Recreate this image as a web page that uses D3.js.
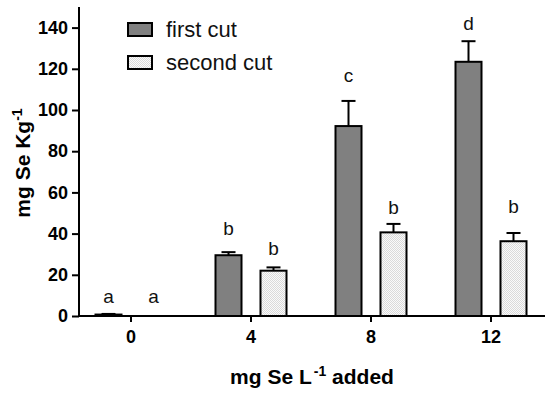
<!DOCTYPE html>
<html><head><meta charset="utf-8">
<script src="https://cdn.jsdelivr.net/npm/d3@7"></script>
<style>body{margin:0;background:#fff}svg{display:block}text{font-family:"Liberation Sans",Arial,sans-serif}</style>
</head><body>
<svg id="c" width="550" height="393"></svg>
<script>
const categories = ["0","4","8","12"];
const series = ["first cut","second cut"];
const firstCut = [0.7, 29.5, 92.2, 123.4];
const firstErr = [0.3, 1.5, 12.2, 10.0];
const secondCut = [0, 22.0, 40.6, 36.3];
const secondErr = [0, 1.6, 4.1, 4.0];
const firstLetters = ["a","b","c","d"];
const secondLetters = ["a","b","b","b"];
const firstLetterAt = [6.5, 39.3, 113.6, 138.8];
const secondLetterAt = [6.5, 29.6, 49.5, 50.0];
const yTicks = [0,20,40,60,80,100,120,140];

const svg = d3.select("#c");
const defs = svg.append("defs");
const pat = defs.append("pattern").attr("id","chk").attr("patternUnits","userSpaceOnUse").attr("width",2).attr("height",2);
pat.append("rect").attr("width",2).attr("height",2).attr("fill","#fafafa");
pat.append("rect").attr("width",1).attr("height",1).attr("fill","#dadada");
pat.append("rect").attr("x",1).attr("y",1).attr("width",1).attr("height",1).attr("fill","#dadada");

const y = d3.scaleLinear().domain([0,150]).range([316,7]);
const x0 = d3.scaleBand().domain(categories).range([71,551]);
const x1 = d3.scaleBand().domain(series).range([24.5,95.5]).paddingInner(0.422);
const fills = {"first cut":"#808080","second cut":"url(#chk)"};

const rows = categories.map((c,i)=>[
  {c, s:series[0], v:firstCut[i], e:firstErr[i], l:firstLetters[i], la:firstLetterAt[i]},
  {c, s:series[1], v:secondCut[i], e:secondErr[i], l:secondLetters[i], la:secondLetterAt[i]}
]).flat();

const g = svg.append("g");
rows.filter(d=>d.v>0).forEach(d=>{
  const bx = x0(d.c)+x1(d.s), bw = x1.bandwidth();
  const cx = bx + bw/2;
  if (d.e>0){
    g.append("line").attr("x1",cx).attr("x2",cx).attr("y1",y(d.v)).attr("y2",y(d.v+d.e)).attr("stroke","#000").attr("stroke-width",2);
    g.append("line").attr("x1",cx-7).attr("x2",cx+7).attr("y1",y(d.v+d.e)).attr("y2",y(d.v+d.e)).attr("stroke","#000").attr("stroke-width",2);
  }
  g.append("rect").attr("x",bx).attr("y",y(d.v)).attr("width",bw).attr("height",Math.max(0,y(0)-y(d.v)))
    .attr("fill",fills[d.s]).attr("stroke","#000").attr("stroke-width",2);
});
rows.forEach(d=>{
  const cx = x0(d.c)+x1(d.s)+x1.bandwidth()/2;
  g.append("text").attr("x",cx).attr("y",y(d.la)).attr("text-anchor","middle").attr("font-size",19).attr("fill","#111").text(d.l);
});

const ya = svg.append("g").attr("transform","translate(79,0)")
  .call(d3.axisLeft(y).tickValues(yTicks).tickSize(7).tickSizeOuter(0).tickPadding(4));
ya.select(".domain").attr("stroke-width",2).attr("d","M0,"+y(150)+"V"+y(0));
ya.selectAll(".tick line").attr("stroke-width",2);
ya.selectAll(".tick text").attr("font-size",18).attr("font-weight","bold").attr("font-family","Liberation Sans, Arial, sans-serif").attr("fill","#000");

const xa = svg.append("g").attr("transform","translate(0,316)")
  .call(d3.axisBottom(x0).tickSize(6).tickSizeOuter(0).tickPadding(8));
xa.select(".domain").attr("stroke-width",2).attr("d","M78,0H545");
xa.selectAll(".tick line").attr("stroke-width",2);
xa.selectAll(".tick text").attr("font-size",18).attr("font-weight","bold").attr("font-family","Liberation Sans, Arial, sans-serif").attr("fill","#000");

const xt = svg.append("text").attr("x",312).attr("y",384).attr("text-anchor","middle").attr("font-size",21).attr("font-weight","bold");
xt.append("tspan").text("mg Se L");
xt.append("tspan").attr("font-size",14).attr("dy",-8).attr("dx",2).text("-1");
xt.append("tspan").attr("dy",8).text(" added");

const yt = svg.append("text").attr("transform","translate(30,163) rotate(-90)").attr("text-anchor","middle").attr("font-size",21).attr("font-weight","bold");
yt.append("tspan").text("mg Se Kg");
yt.append("tspan").attr("font-size",14).attr("dy",-8).text("-1");

const lg = svg.append("g");
series.forEach((s,i)=>{
  lg.append("rect").attr("x",128).attr("y",23+i*33).attr("width",24).attr("height",13).attr("fill",fills[s]).attr("stroke","#000").attr("stroke-width",2);
  lg.append("text").attr("x",166).attr("y",37+i*33).attr("font-size",22).attr("fill","#111").text(s);
});
</script>
</body></html>
